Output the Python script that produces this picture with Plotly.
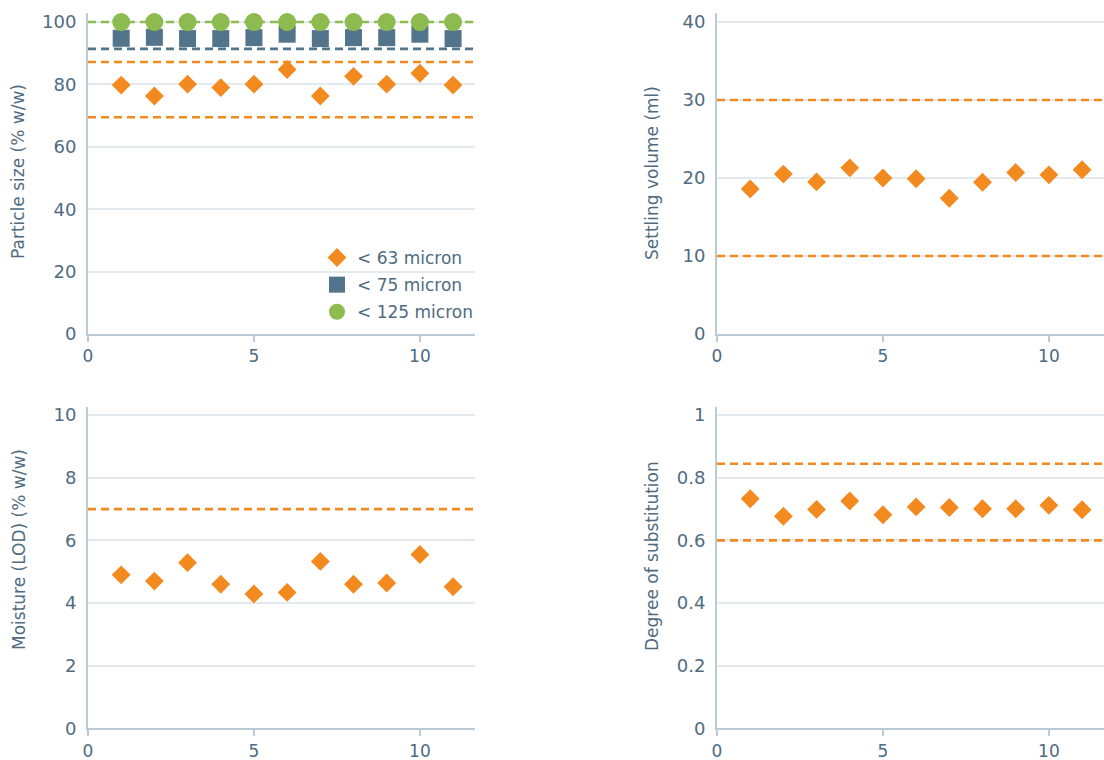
import plotly.graph_objects as go
from plotly.subplots import make_subplots

# Batch numbers
batches = [1, 2, 3, 4, 5, 6, 7, 8, 9, 10, 11]

# Particle size (% w/w passing)
ps_63 = [79.8, 76.3, 80.1, 79.0, 80.1, 84.8, 76.3, 82.6, 80.1, 83.6, 79.8]
ps_75 = [94.8, 95.1, 94.7, 94.7, 95.0, 96.1, 94.7, 95.0, 95.0, 96.1, 94.7]
ps_125 = [100, 100, 100, 100, 100, 100, 100, 100, 100, 100, 100]
ps_63_limits = [69.5, 87.2]
ps_75_limit = [91.4]
ps_125_limit = [100]

# Settling volume (ml)
settling = [18.6, 20.5, 19.5, 21.3, 20.0, 19.9, 17.4, 19.45, 20.7, 20.4, 21.05]
settling_limits = [10, 30]

# Moisture, loss on drying (% w/w)
moisture = [4.90, 4.70, 5.29, 4.60, 4.29, 4.34, 5.33, 4.60, 4.64, 5.55, 4.52]
moisture_limits = [7.0]

# Degree of substitution
ds = [0.733, 0.677, 0.699, 0.726, 0.682, 0.707, 0.705, 0.701, 0.701, 0.712, 0.698]
ds_limits = [0.6, 0.845]

# Shared x axis span
x_range = [0, 11.66]

ORANGE = "#f28a1f"
SLATE = "#52758b"
GREEN = "#8dbb4f"
TEXT = "#4f6b80"
AXIS = "#b9cbd8"
GRID = "#e2e9ef"
FONT = "DejaVu Sans"

W, H = 1104, 760
fig = make_subplots(rows=2, cols=2)

def add_points(y, row, col, name, symbol, color, size, show):
    fig.add_trace(go.Scatter(
        x=batches, y=y, mode="markers", name=name, showlegend=show, legendgroup=name,
        marker=dict(symbol=symbol, color=color, size=size, line=dict(width=0)),
    ), row=row, col=col)

def add_limits(vals, row, col, color):
    # Specification limits drawn across the whole x span, beneath the markers
    for v in vals:
        fig.add_trace(go.Scatter(
            x=x_range, y=[v, v], mode="lines", showlegend=False, hoverinfo="skip",
            line=dict(color=color, width=2.6, dash="8px,5px"),
        ), row=row, col=col)

# Particle size panel
add_limits(ps_63_limits, 1, 1, ORANGE)
add_limits(ps_75_limit, 1, 1, SLATE)
add_limits(ps_125_limit, 1, 1, GREEN)
add_points(ps_63, 1, 1, "< 63 micron", "diamond", ORANGE, 14.5, True)
add_points(ps_75, 1, 1, "< 75 micron", "square", SLATE, 17, True)
add_points(ps_125, 1, 1, "< 125 micron", "circle", GREEN, 18, True)

# Settling volume panel
add_limits(settling_limits, 1, 2, ORANGE)
add_points(settling, 1, 2, "Settling volume", "diamond", ORANGE, 14.5, False)

# Moisture panel
add_limits(moisture_limits, 2, 1, ORANGE)
add_points(moisture, 2, 1, "Moisture", "diamond", ORANGE, 14.5, False)

# Degree of substitution panel
add_limits(ds_limits, 2, 2, ORANGE)
add_points(ds, 2, 2, "Degree of substitution", "diamond", ORANGE, 14.5, False)

# Panel geometry in pixels
left_x = (88, 475)
right_x = (717, 1104)
top_y = (13, 334)
bot_y = (406.7, 728.3)

def xdom(px):
    return [px[0] / W, px[1] / W]

def ydom(py):
    return [1 - py[1] / H, 1 - py[0] / H]

panels = {
    (1, 1): dict(xd=left_x, yd=top_y, yr=[0, 102.9], dt=20, title="Particle size (% w/w)", tx=18, ty=172),
    (1, 2): dict(xd=right_x, yd=top_y, yr=[0, 41.15], dt=10, title="Settling volume (ml)", tx=652, ty=173),
    (2, 1): dict(xd=left_x, yd=bot_y, yr=[0, 10.27], dt=2, title="Moisture (LOD) (% w/w)", tx=19, ty=550),
    (2, 2): dict(xd=right_x, yd=bot_y, yr=[0, 1.027], dt=0.2, title="Degree of substitution", tx=652, ty=556),
}

for (r, c), p in panels.items():
    fig.update_xaxes(
        row=r, col=c, domain=xdom(p["xd"]), range=x_range, dtick=5, tick0=0,
        showgrid=False, zeroline=False, showline=True, linecolor=AXIS, linewidth=2,
        ticks="outside", ticklen=6, tickwidth=1.5, tickcolor=AXIS, automargin=False,
        tickfont=dict(family=FONT, size=17, color=TEXT),
    )
    fig.update_yaxes(
        row=r, col=c, domain=ydom(p["yd"]), range=p["yr"], dtick=p["dt"], tick0=0,
        showgrid=True, gridcolor=GRID, gridwidth=1.5, zeroline=False,
        showline=True, linecolor=AXIS, linewidth=2, ticks="", ticklabelstandoff=6,
        automargin=False, tickfont=dict(family=FONT, size=18, color=TEXT),
    )
    # Axis titles placed at fixed offsets from the panels
    fig.add_annotation(
        text=p["title"], xref="paper", yref="paper", x=p["tx"] / W, y=1 - p["ty"] / H,
        xanchor="center", yanchor="middle", textangle=-90, showarrow=False,
        font=dict(family=FONT, size=17, color=TEXT),
    )

fig.update_layout(
    width=W, height=H, margin=dict(l=0, r=0, t=0, b=0),
    plot_bgcolor="white", paper_bgcolor="white",
    font=dict(family=FONT, color=TEXT),
    legend=dict(
        x=478 / W, xanchor="right", y=1 - 240 / H, yanchor="top",
        bgcolor="rgba(255,255,255,0)", font=dict(family=FONT, size=17, color=TEXT),
        itemsizing="trace", tracegroupgap=2,
    ),
)

fig.write_html("out.html")
